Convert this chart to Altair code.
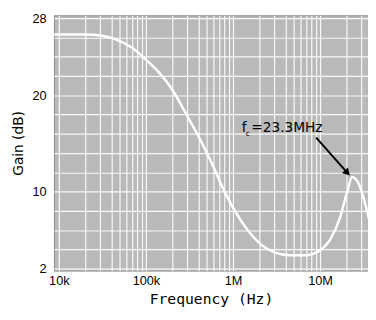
import altair as alt
import pandas as pd

# Curve
freq = [8.8e3, 2.0e4, 3.0e4, 4.5e4, 7.0e4, 1.0e5, 1.4e5, 2.0e5, 3.0e5, 4.2e5, 5.8e5,
        8.0e5, 1.1e6, 1.5e6, 2.1e6, 3.0e6, 4.5e6, 7.0e6, 1.0e7, 1.3e7, 1.68e7,
        2.05e7, 2.33e7, 2.7e7, 3.1e7, 3.5e7, 3.8e7]
gain = [26.3, 26.3, 26.2, 25.8, 24.9, 23.7, 22.4, 20.6, 17.8, 15.4, 12.8,
        10.0, 7.7, 5.9, 4.5, 3.7, 3.4, 3.4, 3.9, 5.0, 7.2,
        10.0, 11.5, 11.0, 9.6, 7.8, 6.5]

x_labels = {10000: "10k", 100000: "100k", 1000000: "1M", 10000000: "10M"}
y_labels = [2, 10, 20, 28]

x_grid = [m * d for d in [1e4, 1e5, 1e6, 1e7] for m in range(1, 10) if 8790 <= m * d <= 3.55e7]
y_grid = list(range(2, 30, 2))

# annotation
ann_f = [1.262e6]
ann_sub_f = [1.40e6]
ann_eq_f = [1.62e6]
ann_db = [16.6]
ann_sub_db = [16.0]
arrow_f = [9.02e6]
arrow_db = [15.6]
arrow_f2 = [2.06e7]
arrow_db2 = [11.95]

xdom = [8790, 3.55e7]
ydom = [1.8, 28.3]

df = pd.DataFrame({"f": freq, "g": gain})

label_expr = " : ".join(
    [f"datum.value == {k} ? '{v}'" for k, v in x_labels.items()]) + " : ''"
ylab_expr = "indexof([" + ",".join(str(v) for v in y_labels) + "], datum.value) >= 0 ? datum.label : ''"

xs = alt.Scale(type="log", domain=xdom, nice=False)
ys = alt.Scale(domain=ydom, nice=False, zero=False)

x_axis = alt.Axis(
    values=x_grid, labelExpr=label_expr, grid=True, labelOverlap=False, labelFlush=False,
    labelPadding=4, title="Frequency (Hz)", titleFont="DejaVu Sans Mono", titleFontSize=15,
    titlePadding=5)
y_axis = alt.Axis(
    values=y_grid, labelExpr=ylab_expr, grid=True, labelOverlap=False,
    labelPadding=8, title="Gain (dB)", titleFont="DejaVu Sans",
    titleFontSize=14, titlePadding=7)

X = lambda c: alt.X(c, scale=xs, axis=x_axis)
Y = lambda c: alt.Y(c, scale=ys, axis=y_axis)

line = alt.Chart(df).mark_line(color="white", strokeWidth=2.5, interpolate="monotone",
                               clip=True).encode(x=X("f:Q"), y=Y("g:Q"))

ann = pd.DataFrame({"f": ann_f, "g": ann_db, "t": ["f"]})
sub = pd.DataFrame({"f": ann_sub_f, "g": ann_sub_db, "t": ["c"]})
eq = pd.DataFrame({"f": ann_eq_f, "g": ann_db, "t": ["=23.3MHz"]})
arr = pd.DataFrame({"f": arrow_f, "g": arrow_db, "f2": arrow_f2, "g2": arrow_db2})

t1 = alt.Chart(ann).mark_text(align="left", baseline="middle", font="DejaVu Sans",
                              fontSize=14, color="black").encode(
    x=X("f:Q"), y=Y("g:Q"), text="t:N")
t2 = alt.Chart(sub).mark_text(align="left", baseline="middle", font="DejaVu Sans",
                              fontSize=8, color="black").encode(
    x=X("f:Q"), y=Y("g:Q"), text="t:N")
t3 = alt.Chart(eq).mark_text(align="left", baseline="middle", font="DejaVu Sans",
                             fontSize=14, color="black").encode(
    x=X("f:Q"), y=Y("g:Q"), text="t:N")
rule = alt.Chart(arr).mark_rule(color="black", strokeWidth=2).encode(
    x=X("f:Q"), y=Y("g:Q"), x2="f2:Q", y2="g2:Q")
head = alt.Chart(arr).mark_point(shape="triangle-up", angle=137, size=70, filled=True,
                                 color="black", opacity=1).encode(
    x=X("f2:Q"), y=Y("g2:Q"))

chart = alt.layer(line, rule, head, t1, t2, t3).properties(
    width=321, height=261,
    autosize=alt.AutoSizeParams(type="none"),
    padding={"left": 47, "top": 4, "right": 0, "bottom": 44},
).configure_view(fill="#b9b9b9", stroke="#8a8a8a", strokeWidth=1
).configure_axis(
    labelOverlap=False, gridColor="white", gridWidth=1.2, gridOpacity=0.9, tickSize=0,
    domain=False, labelFont="Liberation Sans", labelFontSize=13, labelColor="black",
    titleFontWeight="normal", titleColor="black")

chart.save("out.html", embed_options={"renderer": "svg", "actions": False})
